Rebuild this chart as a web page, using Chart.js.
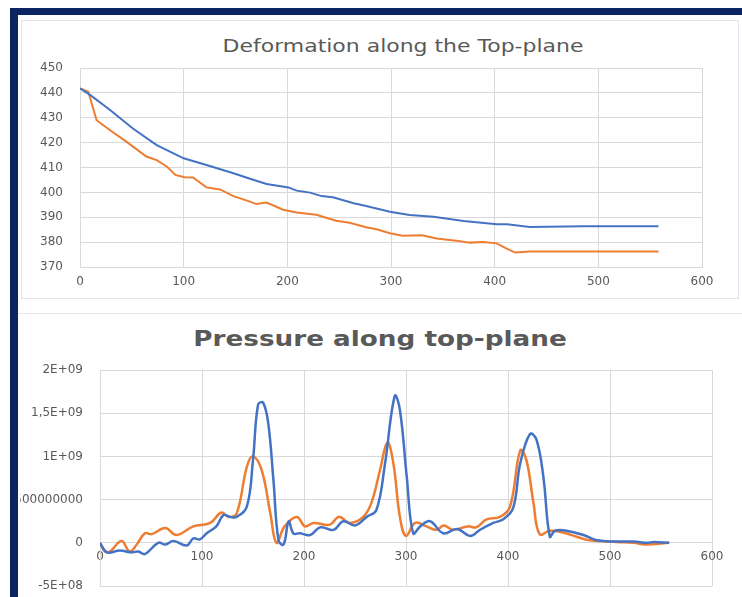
<!DOCTYPE html>
<html>
<head>
<meta charset="utf-8">
<script src="https://cdn.jsdelivr.net/npm/chart.js@4"></script>
<style>
    html, body { margin: 0; padding: 0; background: #fff; }
    body { width: 742px; height: 597px; position: relative; overflow: hidden; font-family: "DejaVu Sans", sans-serif; }
    .abs { position: absolute; }
    #navyTop { left: 10px; top: 8px; width: 732px; height: 7px; background: #0c2461; z-index: 5; }
    #navyLeft { left: 10px; top: 8px; width: 8px; height: 589px; background: #0c2461; z-index: 5; }
    #panelTop { left: 21px; top: 20px; width: 716px; height: 277px; border: 1px solid #dfe5ef; }
    #sepLine { left: 18px; top: 313px; width: 724px; height: 1px; background: #e4e4e4; }
    .title { white-space: nowrap; color: #595959; transform-origin: center center; text-align: center; }
    #titleTop { left: 203px; top: 35px; width: 400px; font-size: 18px; transform: scaleX(1.22); }
    #titleBottom { left: 180px; top: 327px; width: 400px; font-size: 21px; font-weight: bold; transform: scaleX(1.25); }
    #topChart { left: 20px; top: 60px; }
    #bottomChart { left: 20px; top: 362px; }
</style>
</head>
<body>
<div id="panelTop" class="abs"></div>
<div id="sepLine" class="abs"></div>
<div id="titleTop" class="abs title">Deformation along the Top-plane</div>
<div id="titleBottom" class="abs title">Pressure along top-plane</div>
<canvas id="topChart" class="abs" width="718" height="238"></canvas>
<canvas id="bottomChart" class="abs" width="718" height="235"></canvas>
<div id="navyTop" class="abs"></div>
<div id="navyLeft" class="abs"></div>
<script>
// deformation along the top plane
const defBlueX = [0, 10, 29, 51, 74, 100, 122, 148, 164, 180, 201, 209, 222, 233, 244, 264, 276, 299, 318, 341, 370, 402, 412, 434, 486, 558];
const defBlue = [441.8, 439.1, 433.1, 425.7, 419, 413.7, 411, 407.7, 405.5, 403.4, 402, 400.7, 399.9, 398.5, 398, 395.6, 394.5, 392.2, 390.9, 390.2, 388.5, 387.2, 387.2, 386.1, 386.4, 386.4];
const defOrangeX = [0, 8, 16, 29, 45, 64, 74, 84, 92, 101, 109, 122, 135, 148, 164, 170, 180, 196, 209, 228, 247, 260, 276, 286, 299, 311, 330, 344, 363, 376, 389, 402, 411, 420, 434, 558];
const defOrange = [441.8, 440.5, 429, 425, 420.3, 414.4, 413, 410.3, 407, 406.1, 406, 402, 401.2, 398.5, 396.3, 395.3, 395.9, 393, 391.9, 391, 388.6, 387.8, 386, 385.2, 383.6, 382.6, 382.8, 381.5, 380.6, 379.8, 380, 379.5, 377.5, 375.8, 376.2, 376.2];

// pressure along the top plane
const presBlueX = [0, 6.5, 19.6, 31, 37.6, 44, 57, 64, 72, 85, 91.5, 98, 104.6, 114, 121, 127.5, 134, 144, 150, 155, 160, 165, 170, 175, 180, 185, 189.5, 196, 206, 216, 229, 238.5, 250, 261.5, 271, 279, 289, 294, 300.7, 307, 314, 323.5, 336.6, 350, 363, 372.5, 385.6, 395, 405, 412, 421.6, 428, 434.6, 441, 446, 457.5, 474, 487, 506.6, 523, 536.6, 543, 558];
const presBlue = [0, -0.11e9, -0.09e9, -0.11e9, -0.1e9, -0.13e9, 0, -0.02e9, 0.02e9, -0.03e9, 0.05e9, 0.04e9, 0.11e9, 0.19e9, 0.32e9, 0.3e9, 0.3e9, 0.42e9, 0.96e9, 1.6e9, 1.62e9, 1.38e9, 0.73e9, 0.03e9, -0.02e9, 0.25e9, 0.11e9, 0.11e9, 0.09e9, 0.18e9, 0.15e9, 0.25e9, 0.2e9, 0.3e9, 0.38e9, 0.88e9, 1.7e9, 1.54e9, 0.77e9, 0.11e9, 0.19e9, 0.25e9, 0.11e9, 0.16e9, 0.08e9, 0.15e9, 0.23e9, 0.27e9, 0.4e9, 0.92e9, 1.26e9, 1.19e9, 0.77e9, 0.07e9, 0.14e9, 0.14e9, 0.09e9, 0.03e9, 0.015e9, 0.015e9, 0, 0.01e9, 0];
const presOrangeX = [0, 8, 21, 29, 36, 44, 50.6, 64, 75, 91.5, 108, 119, 126, 134, 144, 150, 158.5, 167, 173, 181, 193, 201, 209, 225.5, 234, 245, 258, 266, 274.5, 281.7, 287.6, 294, 300, 309, 320, 330, 337, 346, 360.5, 369, 379, 392, 402, 412, 418, 425, 431, 441, 454, 467.3, 480, 506.6, 523, 536.6, 558];
const presOrange = [-0.02e9, -0.11e9, 0.02e9, -0.1e9, -0.02e9, 0.11e9, 0.1e9, 0.17e9, 0.09e9, 0.19e9, 0.23e9, 0.35e9, 0.3e9, 0.34e9, 0.88e9, 1.0e9, 0.84e9, 0.34e9, 0, 0.19e9, 0.3e9, 0.19e9, 0.23e9, 0.21e9, 0.3e9, 0.23e9, 0.3e9, 0.46e9, 0.84e9, 1.16e9, 0.92e9, 0.3e9, 0.08e9, 0.23e9, 0.19e9, 0.15e9, 0.2e9, 0.15e9, 0.19e9, 0.18e9, 0.27e9, 0.3e9, 0.42e9, 1.07e9, 0.96e9, 0.46e9, 0.1e9, 0.14e9, 0.12e9, 0.07e9, 0.03e9, 0.01e9, 0, -0.02e9, 0];
const presTickLabels = ['-5E+08', '0', '500000000', '1E+09', '1,5E+09', '2E+09'];

const BLUE = '#4472c4';
const ORANGE = '#ed7d31';
const GRID = '#d9d9d9';
const TICK = '#595959';
const tickFont = { family: 'DejaVu Sans', size: 12 };

function zip(xs, ys) {
    return xs.map((x, i) => ({ x: x, y: ys[i] }));
}

function lineSet(xs, ys, color, width, tension) {
    return {
        data: zip(xs, ys),
        borderColor: color,
        backgroundColor: color,
        borderWidth: width,
        pointRadius: 0,
        tension: tension,
        fill: false,
    };
}

function fixWidth(w) {
    return function (scale) { scale.width = w; };
}

// y grid: invisible tick marks push the labels left without adding vertical padding
const yGrid = { color: GRID, drawTicks: true, tickLength: 17, tickColor: 'rgba(0,0,0,0)' };

new Chart(document.getElementById('topChart'), {
    type: 'line',
    data: {
        datasets: [
            lineSet(defBlueX, defBlue, BLUE, 2, 0),
            lineSet(defOrangeX, defOrange, ORANGE, 2, 0),
        ],
    },
    options: {
        responsive: false,
        animation: false,
        layout: { padding: { left: 0, right: 36, top: 8, bottom: 0 } },
        plugins: { legend: { display: false }, tooltip: { enabled: false } },
        scales: {
            x: {
                type: 'linear',
                min: 0, max: 600,
                ticks: { stepSize: 100, color: TICK, font: tickFont, padding: 8, maxRotation: 0 },
                grid: { color: GRID, drawTicks: false },
                border: { color: GRID },
                afterFit: function (scale) { scale.height = 31; },
            },
            y: {
                min: 370, max: 450,
                ticks: { stepSize: 10, color: TICK, font: tickFont, padding: 0 },
                grid: yGrid,
                border: { color: GRID },
                afterFit: fixWidth(60),
            },
        },
    },
});

new Chart(document.getElementById('bottomChart'), {
    type: 'line',
    data: {
        datasets: [
            lineSet(presBlueX, presBlue, BLUE, 2.5, 0.4),
            lineSet(presOrangeX, presOrange, ORANGE, 2.5, 0.4),
        ],
    },
    options: {
        responsive: false,
        animation: false,
        layout: { padding: { left: 0, right: 26, top: 8, bottom: 11 } },
        plugins: { legend: { display: false }, tooltip: { enabled: false } },
        scales: {
            x: {
                type: 'linear',
                position: { y: 0 },
                min: 0, max: 600,
                ticks: { stepSize: 100, color: TICK, font: tickFont, padding: 7, maxRotation: 0 },
                grid: { color: GRID, drawTicks: false },
                border: { color: GRID },
            },
            y: {
                min: -5e8, max: 2e9,
                ticks: {
                    stepSize: 5e8, color: TICK, font: tickFont, padding: 0,
                    callback: (v) => presTickLabels[Math.round((v + 5e8) / 5e8)],
                },
                grid: yGrid,
                border: { color: GRID },
                afterFit: fixWidth(80),
            },
        },
    },
});
</script>
</body>
</html>
